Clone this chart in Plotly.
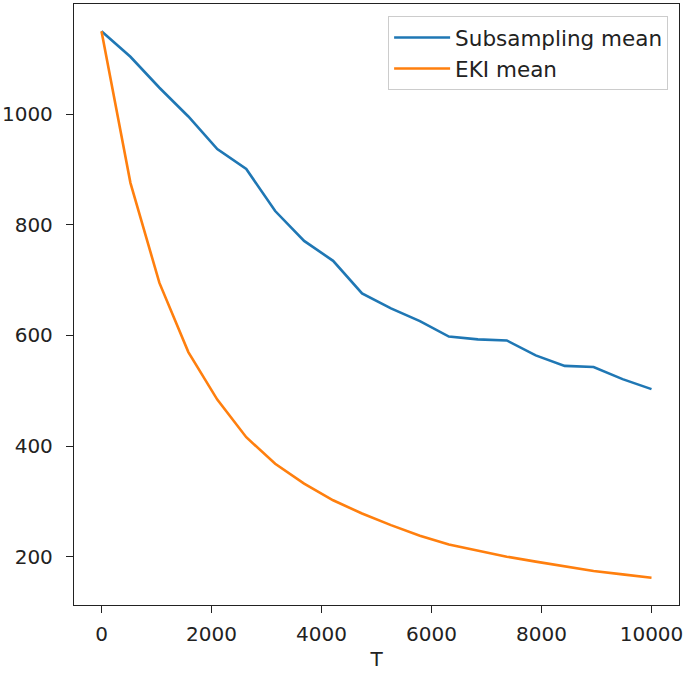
import numpy as np
import plotly.graph_objects as go

T = [0, 526, 1053, 1579, 2105, 2632, 3158, 3684, 4211, 4737,
     5263, 5789, 6316, 6842, 7368, 7895, 8421, 8947, 9474, 10000]
subsampling_mean = [1150, 1104, 1048, 996, 937, 901, 825, 771, 735, 676,
                    649, 626, 598, 593, 591, 564, 545, 543, 521, 503]
eki_mean = [1150, 876, 695, 570, 484, 416, 368, 332, 302, 278,
            257, 238, 222, 211, 200, 191, 182, 174, 168, 162]

x_ticks = [0, 2000, 4000, 6000, 8000, 10000]
y_ticks = [200, 400, 600, 800, 1000]

font = "DejaVu Sans"

fig = go.Figure()
fig.add_trace(go.Scatter(x=T, y=subsampling_mean, mode="lines", name="Subsampling mean",
                         line=dict(color="#1f77b4", width=2.6)))
fig.add_trace(go.Scatter(x=T, y=eki_mean, mode="lines", name="EKI mean",
                         line=dict(color="#ff7f0e", width=2.6)))

allv = subsampling_mean + eki_mean
ymin, ymax = min(allv), max(allv)
ypad = 0.05 * (ymax - ymin)
xpad = 0.05 * (max(T) - min(T))

axis_common = dict(showline=True, linecolor="#222222", linewidth=1.3, mirror=True,
                   ticks="outside", ticklen=7, tickwidth=1.3, tickcolor="#222222",
                   showgrid=False, zeroline=False, automargin=False,
                   tickfont=dict(family=font, size=20, color="#222222"))

fig.update_layout(
    width=685, height=673,
    margin=dict(l=74, r=6, t=4, b=68),
    plot_bgcolor="white", paper_bgcolor="white",
    font=dict(family=font, color="#222222"),
    showlegend=True,
    legend=dict(x=0.982, y=0.98, xanchor="right", yanchor="top",
                bgcolor="rgba(255,255,255,0.8)", bordercolor="#cccccc", borderwidth=1,
                font=dict(family=font, size=21.5, color="#222222"),
                itemwidth=56, tracegroupgap=0),
    xaxis=dict(range=[min(T) - xpad, max(T) + xpad], tickvals=x_ticks,
               ticktext=[str(v) for v in x_ticks], ticklabelstandoff=4,
               title=dict(text="T", font=dict(family=font, size=20, color="#222222"), standoff=6),
               **axis_common),
    yaxis=dict(range=[ymin - ypad, ymax + ypad], tickvals=y_ticks,
               ticktext=[str(v) for v in y_ticks], ticklabelstandoff=9,
               **axis_common),
)

fig.write_html("out.html", config={"displayModeBar": False},
               post_script="document.body.style.margin='0px';")
